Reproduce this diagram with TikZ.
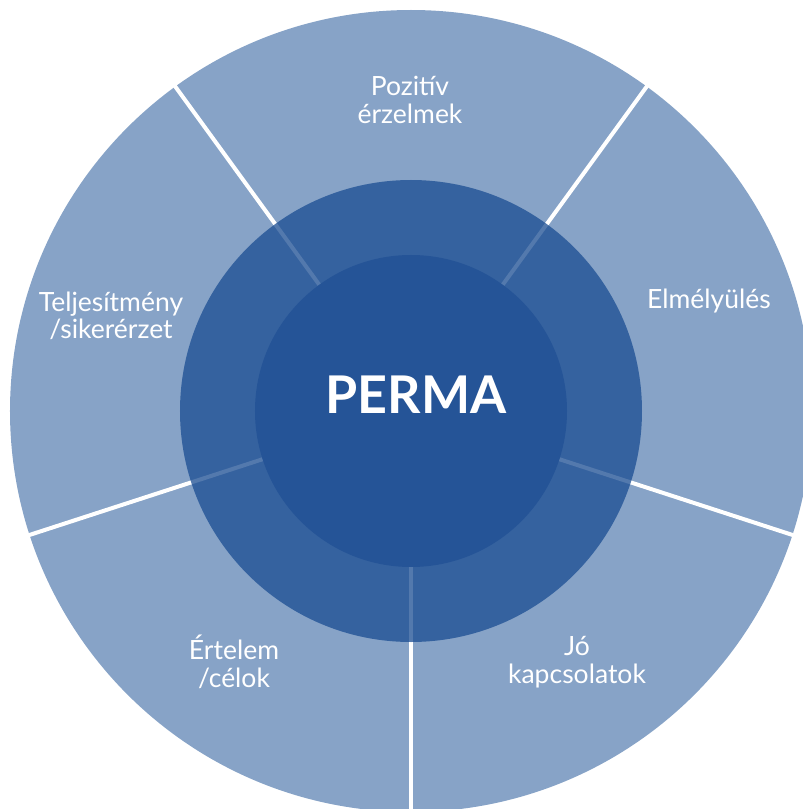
\documentclass[tikz,border=0pt]{standalone}
\usepackage{fontspec}
\setmainfont{Lato}
\usetikzlibrary{positioning}
\definecolor{outerblue}{HTML}{87A3C7}
\definecolor{midblue}{HTML}{35629F}
\definecolor{coreblue}{HTML}{255497}

\begin{document}
\begin{tikzpicture}[
x=1pt, y=1pt,
wheeltext/.style={
    text=white,
    font=\fontsize{26.5}{27.5}\selectfont,
    align=center,
    inner sep=0pt
},
divider/.style={white, line width=4pt},
faintline/.style={white, opacity=0.15, line width=4pt}
]
\useasboundingbox (-411,-398) rectangle (392,411);

\coordinate (centre) at (0,0);
\fill[outerblue] (centre) circle[radius=401];
\foreach \a in {-90,-18,54,126,198}
    \draw[divider] (\a:229) -- (\a:410);
\fill[midblue] (centre) circle[radius=231];
\foreach \a in {-90,-18,54,126,198}
    \draw[faintline] (\a:156) -- (\a:231);
\fill[coreblue] (centre) circle[radius=156];

\node[wheeltext, font=\fontsize{52}{56}\bfseries, anchor=base] (perma) at (5,-2) {PERMA};
\node[wheeltext] (pos) at (-1,311) {Pozitív\\érzelmek};
\node[wheeltext] (eng) at (298,110) {Elmélyülés};
\node[wheeltext] (rel) at (166,-251) {Jó\\kapcsolatok};
\node[wheeltext] (mean) at (-177,-251) {Értelem\\/célok};
\node[wheeltext] (ach) at (-300,95) {Teljesítmény\\/sikerérzet};

\end{tikzpicture}
\end{document}
